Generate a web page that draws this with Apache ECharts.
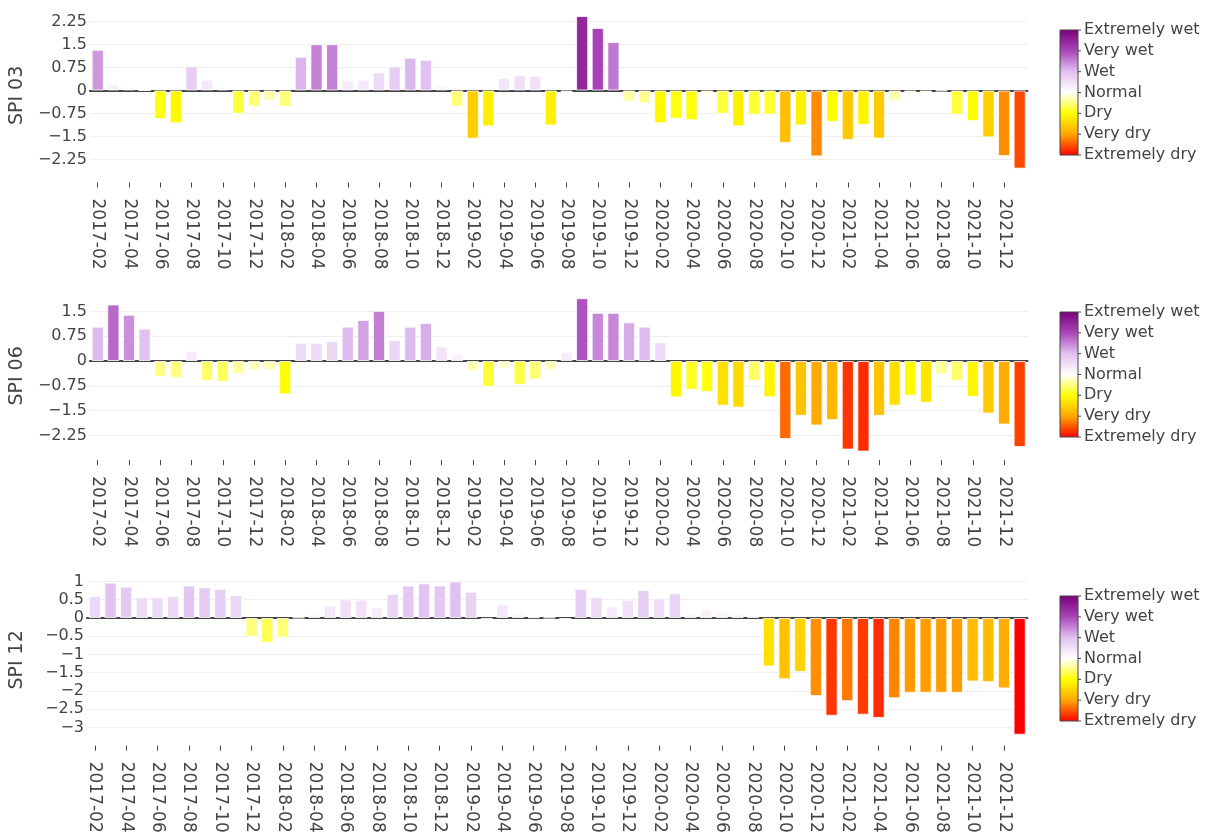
<!DOCTYPE html>
<html>
<head>
<meta charset="utf-8">
<script src="https://cdn.jsdelivr.net/npm/echarts@6/dist/echarts.min.js"></script>
<style>
html, body { margin: 0; padding: 0; background: #fff; }
#chart { width: 1214px; height: 838px; }
</style>
</head>
<body>
<div id="chart"></div>
<script>
// months on the x axis
const months = [
    '2017-02', '2017-03', '2017-04', '2017-05', '2017-06', '2017-07', '2017-08', '2017-09', '2017-10', '2017-11', '2017-12',
    '2018-01', '2018-02', '2018-03', '2018-04', '2018-05', '2018-06', '2018-07', '2018-08', '2018-09', '2018-10', '2018-11', '2018-12',
    '2019-01', '2019-02', '2019-03', '2019-04', '2019-05', '2019-06', '2019-07', '2019-08', '2019-09', '2019-10', '2019-11', '2019-12',
    '2020-01', '2020-02', '2020-03', '2020-04', '2020-05', '2020-06', '2020-07', '2020-08', '2020-09', '2020-10', '2020-11', '2020-12',
    '2021-01', '2021-02', '2021-03', '2021-04', '2021-05', '2021-06', '2021-07', '2021-08', '2021-09', '2021-10', '2021-11', '2021-12',
    '2022-01'
]

const spi03 = [
    1.33, 0.22, 0.11, 0, -0.93, -1.07, 0.79, 0.35, 0.11, -0.76,
    -0.53, -0.33, -0.53, 1.10, 1.51, 1.51, 0.32, 0.35, 0.59, 0.79,
    1.07, 1.00, 0.18, -0.53, -1.57, -1.17, 0.41, 0.51, 0.48, -1.14,
    -0.05, 2.43, 2.04, 1.58, -0.36, -0.42, -1.07, -0.92, -0.97, -0.14,
    -0.76, -1.17, -0.79, -0.79, -1.71, -1.14, -2.15, -1.03, -1.61, -1.13,
    -1.57, -0.33, -0.10, -0.10, -0.02, -0.79, -1.00, -1.53, -2.14, -2.55
]

const spi06 = [
    1.04, 1.71, 1.40, 0.98, -0.48, -0.51, 0.31, -0.60, -0.63, -0.39,
    -0.28, -0.28, -1.01, 0.55, 0.55, 0.61, 1.04, 1.24, 1.52, 0.64,
    1.04, 1.15, 0.44, 0.22, -0.30, -0.78, -0.22, -0.72, -0.56, -0.27,
    0.28, 1.90, 1.46, 1.46, 1.17, 1.04, 0.57, -1.10, -0.87, -0.94,
    -1.35, -1.41, -0.60, -1.10, -2.36, -1.66, -1.95, -1.79, -2.68, -2.74,
    -1.66, -1.35, -1.05, -1.26, -0.41, -0.60, -1.09, -1.59, -1.92, -2.60
]

const spi12 = [
    0.60, 0.97, 0.86, 0.57, 0.57, 0.60, 0.89, 0.84, 0.80, 0.63,
    -0.51, -0.68, -0.54, 0.01, 0.12, 0.35, 0.51, 0.50, 0.29, 0.66,
    0.89, 0.95, 0.89, 1.00, 0.72, -0.05, 0.38, 0.15, 0.02, 0.01,
    -0.05, 0.80, 0.57, 0.32, 0.50, 0.77, 0.54, 0.68, 0.14, 0.24,
    0.17, 0.14, 0.07, -1.33, -1.68, -1.48, -2.14, -2.68, -2.28, -2.65,
    -2.74, -2.20, -2.05, -2.05, -2.05, -2.05, -1.74, -1.76, -1.93, -3.20
]

// colour scale, from -3 (extremely dry) to 3 (extremely wet)
const scaleColors = ['#ff0000', '#ffa500', '#ffff00', '#ffffff', '#e0c0f0', '#a845b8', '#780078']
const scaleLabels = ['Extremely wet', 'Very wet', 'Wet', 'Normal', 'Dry', 'Very dry', 'Extremely dry']

const FONT = 'DejaVu Sans'
const TEXT = '#444'

const panels = [
    { name: 'SPI 03', data: spi03, min: -3, max: 2.68, step: 0.75, top: 8.3, height: 174.2, bar: 30 },
    { name: 'SPI 06', data: spi06, min: -3, max: 2.1, step: 0.75, top: 291.6, height: 168.6, bar: 312 },
    { name: 'SPI 12', data: spi12, min: -3.5, max: 1.2, step: 0.5, top: 574.2, height: 171.5, bar: 596 }
]

window.onload = () => {
    let EC = echarts.init(document.getElementById('chart'))

    let grid = [], xAxis = [], yAxis = [], series = [], graphic = []

    panels.forEach((p, i) => {
        grid.push({ left: 83.5, width: 944, top: p.top, height: p.height })

        // month labels + ticks at the bottom
        xAxis.push({
            type: 'category', gridIndex: i, data: months, position: 'bottom',
            axisLine: { show: false, onZero: false },
            axisTick: { show: true, interval: 1, alignWithLabel: true, length: 5, lineStyle: { color: TEXT } },
            axisLabel: { interval: 1, rotate: -90, margin: 16, fontSize: 17, color: TEXT, fontFamily: FONT },
            splitLine: { show: false }
        })
        // zero line
        xAxis.push({
            type: 'category', gridIndex: i, data: months, position: 'top',
            axisLine: { show: true, onZero: true, lineStyle: { color: TEXT, width: 2 } },
            axisTick: { show: false },
            axisLabel: { show: false },
            splitLine: { show: false }
        })

        yAxis.push({
            type: 'value', gridIndex: i, min: p.min, max: p.max, interval: p.step,
            name: p.name, nameLocation: 'middle', nameGap: 60,
            nameTextStyle: { fontSize: 19, color: TEXT, fontFamily: FONT },
            axisLine: { show: false },
            axisTick: { show: false },
            axisLabel: {
                showMinLabel: false, showMaxLabel: false, margin: 3,
                fontSize: 16, color: TEXT, fontFamily: FONT,
                formatter: v => String(v).replace('-', '\u2212')
            },
            splitLine: { showMinLine: false, showMaxLine: false, lineStyle: { color: '#eeeeee', width: 1 } }
        })

        series.push({
            name: p.name, type: 'bar', xAxisIndex: 2 * i, yAxisIndex: i,
            data: p.data, barCategoryGap: '22%',
            itemStyle: { borderColor: 'rgba(255,255,255,0.8)', borderWidth: 1 }
        })

        // colour bar
        let stops = scaleColors.slice().reverse().map((c, k) => ({ offset: k / (scaleColors.length - 1), color: c }))
        graphic.push({
            type: 'rect', silent: true,
            shape: { x: 1060, y: p.bar, width: 18, height: 125 },
            style: { fill: new echarts.graphic.LinearGradient(0, 0, 0, 1, stops), stroke: TEXT, lineWidth: 1 }
        })
        scaleLabels.forEach((t, k) => {
            let y = p.bar + k * 125 / (scaleLabels.length - 1)
            graphic.push({
                type: 'line', silent: true,
                shape: { x1: 1078, y1: y, x2: 1081, y2: y },
                style: { stroke: TEXT, lineWidth: 1 }
            })
            graphic.push({
                type: 'text', silent: true, x: 1084, y: y,
                style: { text: t, fill: TEXT, font: '16px "DejaVu Sans"', verticalAlign: 'middle' }
            })
        })
    })

    let option = {
        backgroundColor: '#fff',
        animation: false,
        grid: grid,
        xAxis: xAxis,
        yAxis: yAxis,
        visualMap: [{
            type: 'continuous',
            show: false,
            seriesIndex: [0, 1, 2],
            min: -3,
            max: 3,
            inRange: { color: scaleColors },
            outOfRange: { color: '#ff0000' }
        }],
        series: series,
        graphic: graphic
    }
    EC.setOption(option)
}
</script>
</body>
</html>
